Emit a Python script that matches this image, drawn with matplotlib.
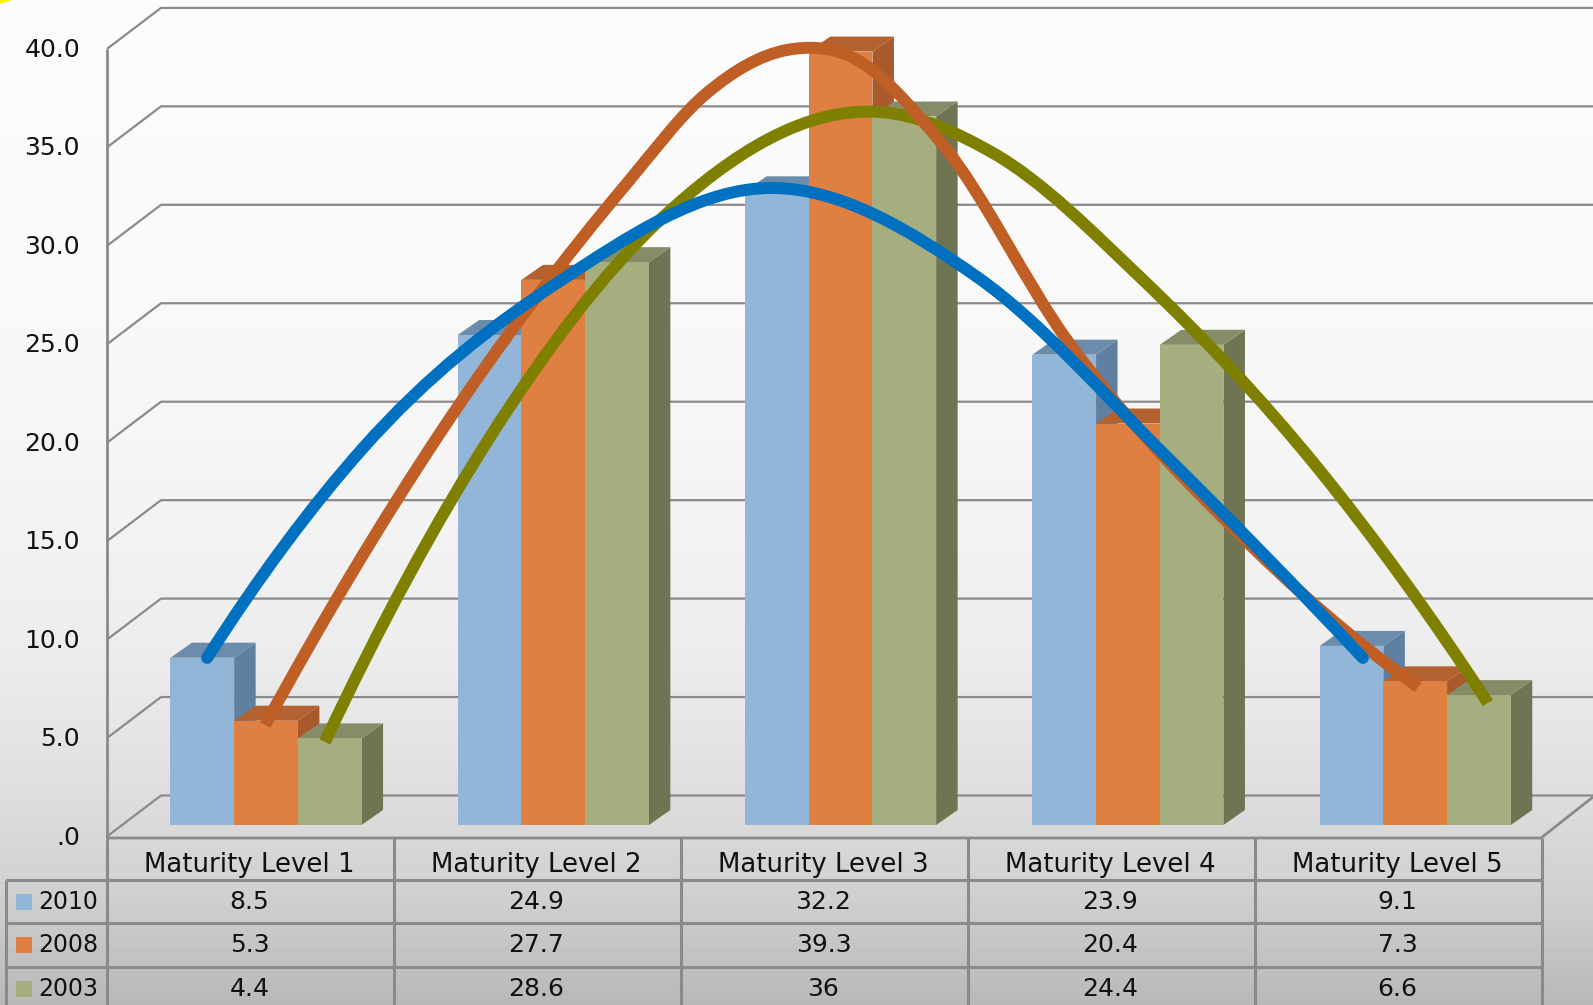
import numpy as np
import matplotlib
matplotlib.use("Agg")
import matplotlib.pyplot as plt
from matplotlib.patches import Polygon, PathPatch, Rectangle
from matplotlib.path import Path
from matplotlib.transforms import Affine2D

categories = ['Maturity Level 1', 'Maturity Level 2', 'Maturity Level 3', 'Maturity Level 4', 'Maturity Level 5']
years = ['2010', '2008', '2003']
values_2010 = [8.5, 24.9, 32.2, 23.9, 9.1]
values_2008 = [5.3, 27.7, 39.3, 20.4, 7.3]
values_2003 = [4.4, 28.6, 36, 24.4, 6.6]
table_text = [['8.5', '24.9', '32.2', '23.9', '9.1'],
              ['5.3', '27.7', '39.3', '20.4', '7.3'],
              ['4.4', '28.6', '36', '24.4', '6.6']]
y_ticks = [0, 5, 10, 15, 20, 25, 30, 35, 40]
y_tick_labels = ['.0', '5.0', '10.0', '15.0', '20.0', '25.0', '30.0', '35.0', '40.0']

# trend curves: category position, value
curve_2010_x = [-0.205, 0.338, 1.013, 1.765, 2.475, 3.136, 3.818]
curve_2010_y = [8.49, 19.16, 27.54, 32.37, 27.85, 18.70, 8.49]
curve_2008_x = [-0.003, 0.606, 1.257, 1.535, 1.813, 2.022, 2.356, 2.788, 3.366, 4.010]
curve_2008_y = [5.08, 19.92, 32.62, 37.20, 39.38, 39.13, 34.56, 24.64, 15.09, 7.01]
curve_2003_x = [0.205, 0.780, 1.371, 2.137, 2.530, 3.053, 3.658, 4.253]
curve_2003_y = [4.22, 19.72, 30.74, 36.23, 34.15, 27.69, 18.19, 6.20]

W, H = 1593, 1005
X_UNIT, Y_UNIT = 287.3, 19.68      # pixels per category / per value
X0, Y0 = 266, 825                  # pixel of category 0 at value 0
BAR_W = 63.7 / X_UNIT
DEPTH_X, DEPTH_Y = 21.5 / X_UNIT, 15 / Y_UNIT

series = [values_2010, values_2008, values_2003]
curves = [(curve_2010_x, curve_2010_y), (curve_2008_x, curve_2008_y), (curve_2003_x, curve_2003_y)]
front_cols = ['#91b6d7', '#df7f42', '#a6ae80']
top_cols = ['#6b8cab', '#b3622f', '#868c68']
side_cols = ['#5f80a0', '#a9592c', '#6f7452']
line_cols = ['#0070c0', '#bf5f26', '#808000']

GRID = '#8a8a8a'
TXT = '#111111'

fig = plt.figure(figsize=(W / 100, H / 100), dpi=100)
ax = fig.add_axes([0, 0, 1, 1])
ax.set_xlim(-X0 / X_UNIT, (W - X0) / X_UNIT)
ax.set_ylim((Y0 - H) / Y_UNIT, Y0 / Y_UNIT)
ax.axis('off')

# page pixels, for the walls and the table
px = Affine2D().scale(1, -1).translate(0, H)

# background gradient
stops_y = [0, 300, 500, 640, 740, 830, 900, 1005]
stops_v = [0.985, 0.975, 0.955, 0.93, 0.895, 0.85, 0.81, 0.72]
shade = np.interp(np.arange(H), stops_y, stops_v).reshape(-1, 1)
bg = fig.add_axes([0, 0, 1, 1], zorder=-1)
bg.imshow(shade, cmap='gray', vmin=0, vmax=1, aspect='auto')
bg.axis('off')
ax.patch.set_alpha(0)

# corner of the slide decoration
ax.add_patch(Polygon([(0, 0), (12, 0), (0, 4)], closed=True, color='#fff200', lw=0, transform=px, zorder=1))

# walls and floor
WALL_L, WALL_R = 107, 1541
BACK_DX, BACK_DY = 54, 41
ZERO_Y, PX_PER_TICK = 836.5, 19.69


def furn(xs, ys, lw=2.0):
    ax.plot(xs, ys, color=GRID, lw=lw, transform=px, solid_capstyle='butt', clip_on=False, zorder=2)


for t, lab in zip(y_ticks, y_tick_labels):
    y = ZERO_Y - t * PX_PER_TICK
    furn([WALL_L, WALL_L + BACK_DX, W], [y, y - BACK_DY, y - BACK_DY], lw=1.6)
    ax.text(80, y + 1, lab, transform=px, ha='right', va='center', fontsize=18, color=TXT, zorder=8)
furn([WALL_L, WALL_L], [ZERO_Y - 40 * PX_PER_TICK, 838])
furn([WALL_L, WALL_R, W], [838, 838, 797])

# bars, with their top and side faces
for i in range(len(categories)):
    for s, vals in enumerate(series):
        v = vals[i]
        x = i + (s - 1) * BAR_W
        left, right = x - BAR_W / 2, x + BAR_W / 2
        z = 3 + i + s * 0.1
        ax.add_patch(Polygon([(right, 0), (right + DEPTH_X, DEPTH_Y), (right + DEPTH_X, v + DEPTH_Y), (right, v)],
                             closed=True, color=side_cols[s], lw=0, zorder=z))
        ax.add_patch(Polygon([(left, v), (left + DEPTH_X, v + DEPTH_Y), (right + DEPTH_X, v + DEPTH_Y), (right, v)],
                             closed=True, color=top_cols[s], lw=0, zorder=z))
        ax.bar(x, v, width=BAR_W, color=front_cols[s], lw=0, zorder=z + 0.01)

# smooth curves through the knots, one bezier per knot interval
for s, (cx, cy) in enumerate(curves):
    cx = np.array(cx)
    cy = np.array(cy)
    slopes = np.gradient(cy, cx, edge_order=2)
    verts = [(cx[0], cy[0])]
    codes = [Path.MOVETO]
    for k in range(len(cx) - 1):
        d = (cx[k + 1] - cx[k]) / 3
        verts += [(cx[k] + d, cy[k] + slopes[k] * d),
                  (cx[k + 1] - d, cy[k + 1] - slopes[k + 1] * d),
                  (cx[k + 1], cy[k + 1])]
        codes += [Path.CURVE4] * 3
    ax.add_patch(PathPatch(Path(verts, codes), fc='none', ec=line_cols[s], lw=8.6,
                           capstyle='round' if s == 0 else 'butt', zorder=20 - s))

# data table
ROWS = [838, 880, 923, 967, 1010]
COLS = [WALL_L + 287 * k for k in range(6)]
for c in COLS:
    furn([c, c], [ROWS[0], H], lw=2.2)
for r in ROWS[1:4]:
    furn([6, WALL_R], [r, r], lw=2.2)
furn([6, 6], [ROWS[1], H], lw=2.2)

for k, cat in enumerate(categories):
    ax.text(COLS[k] + 142.5, 865, cat, transform=px, ha='center', va='center', fontsize=18.7, color=TXT, zorder=8)
for r, year in enumerate(years):
    yc = (ROWS[r + 1] + ROWS[r + 2]) / 2
    ax.add_patch(Rectangle((16, yc - 8), 16, 16, color=front_cols[r], lw=0, transform=px, zorder=8))
    ax.text(38, yc, year, transform=px, ha='left', va='center', fontsize=17, color=TXT, zorder=8)
    for k, txt in enumerate(table_text[r]):
        ax.text(COLS[k] + 142.5, yc, txt, transform=px, ha='center', va='center', fontsize=18, color=TXT, zorder=8)

fig.savefig('out.png', dpi=100)
